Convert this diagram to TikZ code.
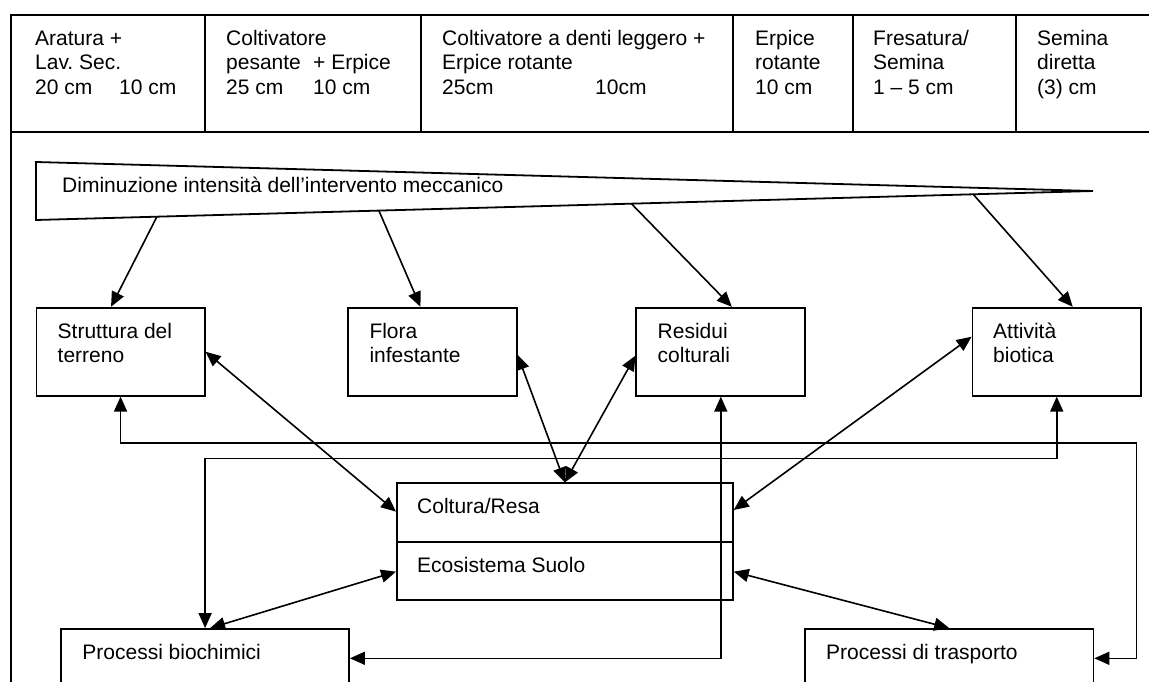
\documentclass[tikz,border=0pt]{standalone}
\usepackage{fontspec}
\setmainfont{Liberation Sans}
\usetikzlibrary{arrows.meta,calc}
\newcommand{\tb}[1]{\begin{tabular}[t]{@{}l@{}}#1\end{tabular}}
\begin{document}
\begin{tikzpicture}[x=1pt,y=-1pt,
  box/.style={draw,line width=1.8pt,inner sep=0pt},
  txt/.style={inner sep=0pt,anchor=base west,font=\fontsize{21}{24.5}\selectfont},
  conn/.style={line width=1.6pt,{Triangle[length=15pt,width=13pt]}-{Triangle[length=15pt,width=13pt]}},
  one/.style={line width=1.6pt,-{Triangle[length=15pt,width=13pt]}},
  rule/.style={line width=2pt}]
\useasboundingbox (0,0) rectangle (1149,682);
\clip (0,0) rectangle (1149,682);
% header table
\draw[line width=2.7pt] (11,15) -- (1160,15);
\draw[line width=2.7pt] (11,13.65) -- (11,690);
\draw[rule] (11,132) -- (1160,132);
\foreach \x in {204.5,421,732.5,853,1015.5} \draw[rule] (\x,15) -- (\x,132);
\node[txt] (h1) at (35,45.5) {\tb{Aratura +\\Lav.\ Sec.\\\makebox[84pt][l]{20 cm}10 cm}};
\node[txt] (h2) at (226,45.5) {\tb{Coltivatore\\\makebox[87pt][l]{pesante}+ Erpice\\\makebox[87pt][l]{25 cm}10 cm}};
\node[txt] (h3) at (442,45.5) {\tb{Coltivatore a denti leggero +\\Erpice rotante\\\makebox[153pt][l]{25cm}10cm}};
\node[txt] (h4) at (755,45.5) {\tb{Erpice\\rotante\\10 cm}};
\node[txt] (h5) at (873,45.5) {\tb{Fresatura/\\Semina\\1 – 5 cm}};
\node[txt] (h6) at (1037,45.5) {\tb{Semina\\diretta\\(3) cm}};
% wedge
\coordinate (wtl) at (36,162);
\coordinate (wbl) at (36,220);
\coordinate (wtip) at (1093,191);
\draw[line width=1.8pt] (wtl) -- (wtip) -- (wbl) -- cycle;
\node[txt] (wt) at (62,192.5) {Diminuzione intensità dell’intervento meccanico};
\coordinate (w1) at (156.9,216.7);
\coordinate (w2) at (378.9,210.6);
\coordinate (w3) at (631.4,203.7);
\coordinate (w4) at (973.2,194.3);
% boxes
\node[box,minimum width=168.3pt,minimum height=88pt] (str) at (120.55,351.7) {};
\node[box,minimum width=168.3pt,minimum height=88pt] (fl) at (432.45,351.7) {};
\node[box,minimum width=169pt,minimum height=88pt] (res) at (720.8,351.7) {};
\node[box,minimum width=168.5pt,minimum height=88pt] (att) at (1056.75,351.7) {};
\node[txt] (strT) at (57.5,338.3) {\tb{Struttura del\\terreno}};
\node[txt] (flT) at (369.3,338.3) {\tb{Flora\\infestante}};
\node[txt] (resT) at (657.5,338.3) {\tb{Residui\\colturali}};
\node[txt] (attT) at (993,338.3) {\tb{Attività\\biotica}};
\node[box,minimum width=335.9pt,minimum height=116.7pt] (col) at (564.85,541.65) {};
\draw[line width=1.8pt] (col.west) -- (col.east);
\node[txt] (colT) at (417,513.3) {Coltura/Resa};
\node[txt] (ecoT) at (417,572.3) {Ecosistema Suolo};
\node[box,minimum width=287.8pt,minimum height=58.6pt] (bio) at (205.1,658.3) {};
\node[box,minimum width=288.4pt,minimum height=58.6pt] (tra) at (949.2,658.3) {};
\node[txt] (bioT) at (82.2,659.3) {Processi biochimici};
\node[txt] (traT) at (826,659.3) {Processi di trasporto};
% wedge arrows
\draw[one] (w1) -- ([xshift=-9.5pt]str.north);
\draw[one] (w2) -- ([xshift=-12pt]fl.north);
\draw[one] (w3) -- ([xshift=11pt]res.north);
\draw[one] (w4) -- ([xshift=16pt]att.north);
% connectors
\draw[conn] (str.east) -- ([yshift=30pt]col.west);
\draw[conn] ([yshift=-3pt]fl.east) -- (col.north);
\draw[conn] ([yshift=-4pt]res.west) -- (col.north);
\draw[conn] ([yshift=15pt]att.west) -- ([yshift=31.65pt]col.east);
\draw[conn] ([yshift=-30pt]col.west) -- ([xshift=5pt]bio.north);
\draw[conn] ([yshift=-30pt]col.east) -- (tra.north);
\coordinate (e1) at (1136.6,442.7);
\draw[conn] (str.south) |- (e1) |- (tra.east);
\coordinate (f1) at (0,458.3);
\draw[conn] (att.south) |- (bio.north |- f1) -- (bio.north);
\draw[conn] (res.south) |- (bio.east);
\end{tikzpicture}
\end{document}
